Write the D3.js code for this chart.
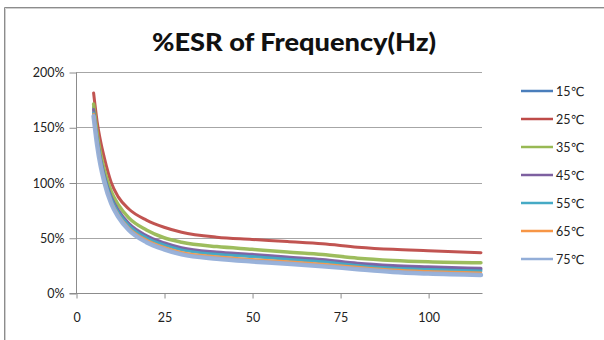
<!DOCTYPE html>
<html>
<head>
<meta charset="utf-8">
<script src="https://cdn.jsdelivr.net/npm/d3@7"></script>
<style>
  html, body { margin: 0; padding: 0; background: #fff; }
  svg { display: block; }
  text { font-family: Lato, "Open Sans", "DejaVu Sans", sans-serif; }
</style>
</head>
<body>
<svg id="chart" width="604" height="340"></svg>
<script>
const title = "%ESR of Frequency(Hz)";
const freq = [5, 6, 7, 8, 10, 12, 15, 20, 25, 30, 40, 50, 60, 70, 80, 90, 100, 115];
const seriesNames = ["15℃", "25℃", "35℃", "45℃", "55℃", "65℃", "75℃"];
const s15 = [168, 141, 122, 107, 86, 74, 62, 51, 44.5, 40, 36, 34, 31.5, 29.3, 26, 24, 22.8, 21.3];
const s25 = [181, 155, 137, 123, 100, 87, 76, 66, 59.5, 55, 50.5, 48.5, 46.5, 44.5, 41.5, 39.5, 38.3, 36.5];
const s35 = [171, 145, 126, 112, 92, 80, 68, 57, 50, 46, 42, 39.5, 37, 34.8, 31.5, 29.5, 28.3, 27.4];
const s45 = [166, 140, 121, 107, 87, 75, 63, 52, 45.5, 41, 37, 35, 32.5, 30.3, 27, 25, 23.8, 22.3];
const s55 = [163, 138, 119, 105, 85, 73, 61, 50, 43.5, 39, 35, 33, 30.5, 28.3, 25, 22.5, 21.3, 20];
const s65 = [162, 136, 117, 103, 83, 71, 59, 48, 41.5, 37, 33, 30.5, 28.5, 26.3, 23.5, 21, 19.6, 18.4];
const s75 = [160, 134, 115, 101, 81, 69, 57, 46, 39.5, 35, 31, 28.5, 26.5, 24.3, 21.5, 19, 17.6, 16.3];
const seriesValues = [s15, s25, s35, s45, s55, s65, s75];
const colors = ["#4A7EBB", "#BE4B48", "#98B954", "#7D60A0", "#46AAC5", "#F79646", "#93AED8"];
const widths = [3, 3, 3.5, 3, 3, 2.5, 4.5];
const xTicks = [0, 25, 50, 75, 100];
const yTicks = [0, 50, 100, 150, 200];

const svg = d3.select("#chart");

// outer frame
svg.append("path")
  .attr("d", "M4.5,340 L4.5,7.5 L604,7.5")
  .attr("fill", "none").attr("stroke", "#8c8c8c").attr("stroke-width", 1);
svg.append("path")
  .attr("d", "M5.5,340 L5.5,8.5 L604,8.5")
  .attr("fill", "none").attr("stroke", "#d0d0d0").attr("stroke-width", 1);

const x = d3.scaleLinear().domain([0, 115.3]).range([76, 482]);
const y = d3.scaleLinear().domain([0, 200]).range([293, 72]);

// gridlines
svg.append("g").selectAll("line").data(yTicks.filter(d => d > 0)).join("line")
  .attr("x1", x(0)).attr("x2", x.range()[1])
  .attr("y1", d => Math.round(y(d)) + 0.5).attr("y2", d => Math.round(y(d)) + 0.5)
  .attr("stroke", "#a6a6a6").attr("stroke-width", 1);

// y axis
const yAxis = d3.axisLeft(y).tickValues(yTicks).tickFormat(d => d + "%").tickSize(7).tickPadding(5);
const gy = svg.append("g").attr("transform", `translate(${x(0) + 0.5},0.5)`).call(yAxis);
gy.select(".domain").attr("stroke", "#8c8c8c").attr("d", `M0,${y(200)}V${y(0)}`);
gy.selectAll(".tick line").attr("stroke", "#8c8c8c");
gy.selectAll(".tick text").attr("fill", "#222").style("font-size", "12.5px").attr("font-family", "Lato, sans-serif");

// x axis
const xAxis = d3.axisBottom(x).tickValues(xTicks).tickSize(5).tickPadding(15);
const gx = svg.append("g").attr("transform", `translate(0.5,${Math.round(y(0)) + 0.5})`).call(xAxis);
gx.select(".domain").attr("stroke", "#8c8c8c").attr("d", `M${x(0) - 7},0H${x.range()[1]}`);
gx.selectAll(".tick line").attr("stroke", "#8c8c8c");
gx.selectAll(".tick text").attr("fill", "#222").style("font-size", "12.5px").attr("font-family", "Lato, sans-serif");

// lines
const line = d3.line().x((d, i) => x(freq[i])).y(d => y(d)).curve(d3.curveMonotoneX);
const lg = svg.append("g");
seriesValues.forEach((vals, k) => {
  lg.append("path").datum(vals)
    .attr("d", line)
    .attr("fill", "none")
    .attr("stroke", colors[k])
    .attr("stroke-width", widths[k])
    .attr("stroke-linejoin", "round")
    .attr("stroke-linecap", "round")
    .attr("opacity", 0.95);
});

// title
svg.append("text")
  .attr("x", 294).attr("y", 51)
  .attr("text-anchor", "middle")
  .attr("font-weight", "900")
  .style("font-size", "24px")
  .attr("fill", "#111")
  .attr("textLength", 284)
  .attr("lengthAdjust", "spacingAndGlyphs")
  .text(title);

// legend
const leg = svg.append("g");
seriesNames.forEach((name, k) => {
  const yy = 91 + k * 28;
  leg.append("line").attr("x1", 521).attr("x2", 553).attr("y1", yy).attr("y2", yy)
    .attr("stroke", colors[k]).attr("stroke-width", 2.5);
  leg.append("text").attr("x", 556).attr("y", yy + 4.5)
    .style("font-size", "12.5px").attr("fill", "#222").text(name);
});
</script>
</body>
</html>
